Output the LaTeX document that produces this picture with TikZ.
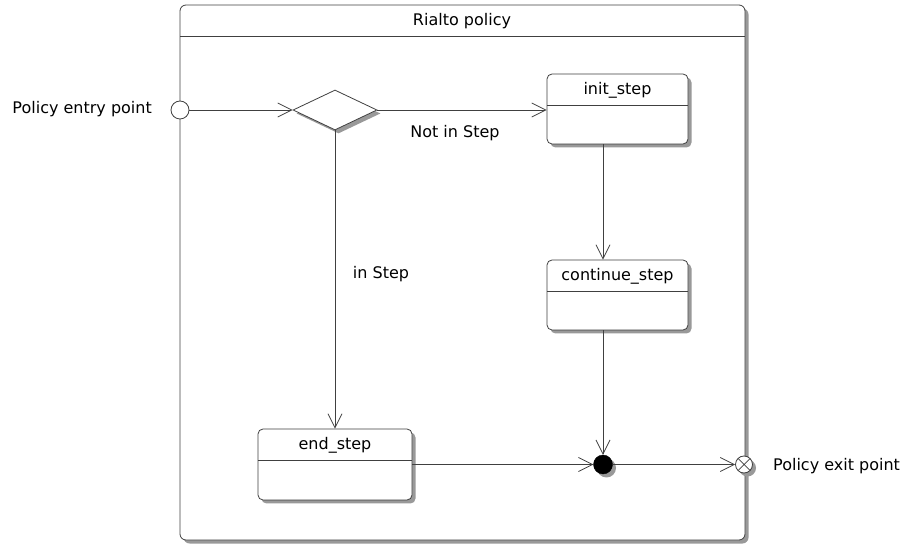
\documentclass[tikz,border=0pt]{standalone}
\usepackage{fontspec}
\setmainfont{DejaVu Sans}
\usetikzlibrary{arrows.meta,shapes.geometric,shadows}
\definecolor{edgegray}{HTML}{404040}
\definecolor{shadowgray}{HTML}{999999}
\begin{document}
\begin{tikzpicture}[x=1pt,y=-1pt,
  txt/.style={font=\fontsize{16}{19}\selectfont, text=black},
  shad/.style={drop shadow={shadow xshift=3.5pt,shadow yshift=-3.5pt,fill=shadowgray,opacity=1}},
  statebox/.style={draw=edgegray, line width=0.8pt, fill=white, rounded corners=5pt,
    minimum width=141pt, minimum height=70pt, inner sep=0pt, shad,
    path picture={\draw[edgegray, line width=0.8pt]
      ([yshift=-31pt]path picture bounding box.north west) -- ([yshift=-31pt]path picture bounding box.north east);}},
  flow/.style={draw=edgegray, line width=0.8pt, -{Straight Barb[length=14pt,width=14pt]}},
]
\useasboundingbox (0,0) rectangle (906,545);

% enclosing state
\draw[edgegray, line width=0.8pt, fill=white, rounded corners=6pt, shad]
  (180,5) coordinate (frameNW) rectangle (745,540) coordinate (frameSE);
\draw[edgegray, line width=0.8pt] (180,36) -- (745,36);
\node[txt] (title) at (462,21) {Rialto policy};

% states
\node[statebox, label={[txt,anchor=center,yshift=-17pt]north:init\_step}] (init) at (617.5,109) {};
\node[statebox, label={[txt,anchor=center,yshift=-17pt]north:continue\_step}] (cont) at (617.5,295) {};
\node[statebox, minimum width=154pt, minimum height=71pt,
  label={[txt,anchor=center,yshift=-17pt]north:end\_step}] (end) at (335,464.5) {};

% decision
\node[diamond, draw=edgegray, line width=0.8pt, fill=white, shad,
  minimum width=84pt, minimum height=40pt, inner sep=0pt] (dec) at (335,110) {};

% junction
\node[circle, fill=black, draw=black, minimum size=19pt, inner sep=0pt, shad] (jn) at (603,464.5) {};

% entry and exit points
\node[circle, draw=edgegray, line width=0.8pt, fill=white, minimum size=18pt, inner sep=0pt] (entry) at (180,110) {};
\node[circle, draw=edgegray, line width=0.8pt, fill=white, minimum size=17pt, inner sep=0pt, shad,
  path picture={\draw[edgegray, line width=0.7pt]
    (path picture bounding box.north west) -- (path picture bounding box.south east)
    (path picture bounding box.south west) -- (path picture bounding box.north east);}] (exit) at (744,464.5) {};

\node[txt, anchor=east, inner sep=0pt] (entrylbl) at (152,109) {Policy entry point};
\node[txt, anchor=west, inner sep=0pt] (exitlbl) at (773,466) {Policy exit point};

% transitions
\draw[flow] (entry) -- (dec.west);
\draw[flow] (dec.east) -- (init.west |- dec.east);
\node[txt] (notin) at (455,133) {Not in Step};
\draw[flow] (dec.south) -- (end.north);
\node[txt] (instep) at (381,274) {in Step};
\draw[flow] (init.south -| jn) -- (cont.north -| jn);
\draw[flow] (cont.south -| jn) -- (jn.north);
\draw[flow] (end.east |- jn) -- (jn.west);
\draw[flow] (jn.east) -- (exit.west);
\end{tikzpicture}
\end{document}
